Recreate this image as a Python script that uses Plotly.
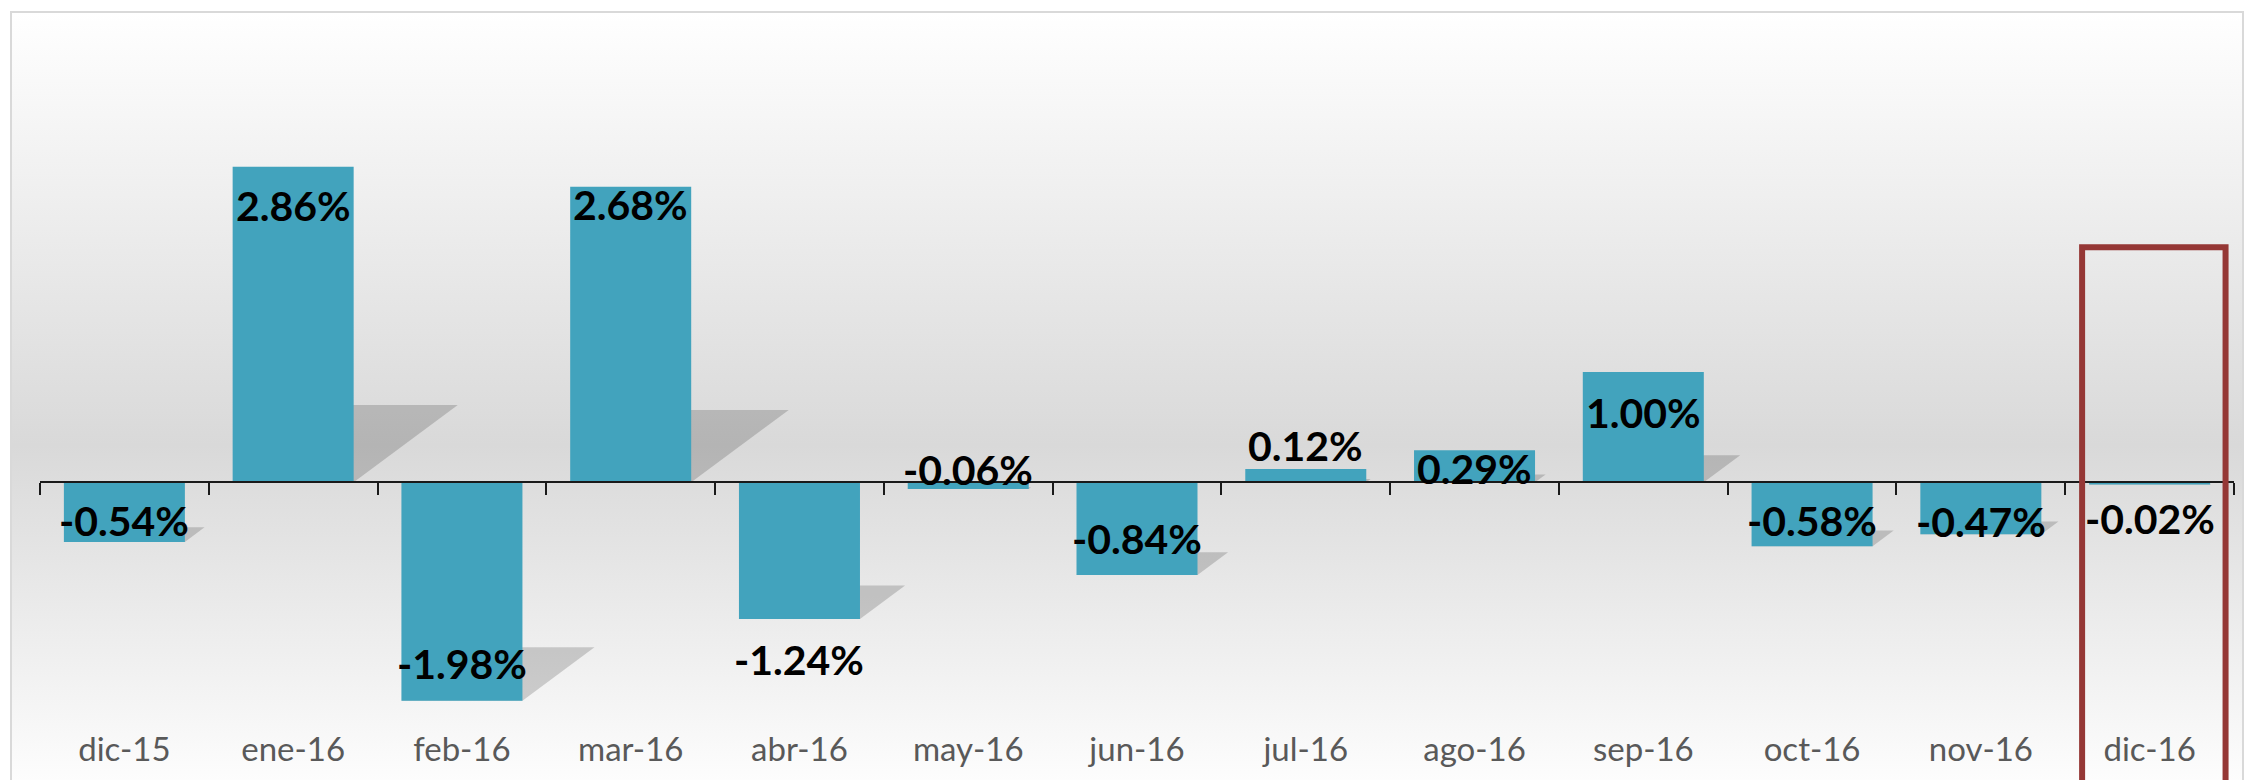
import base64
import plotly.graph_objects as go

# ---- data ----
categories = ["dic-15", "ene-16", "feb-16", "mar-16", "abr-16", "may-16", "jun-16",
              "jul-16", "ago-16", "sep-16", "oct-16", "nov-16", "dic-16"]
values = [-0.54, 2.86, -1.98, 2.68, -1.24, -0.06, -0.84, 0.12, 0.29, 1.00, -0.58, -0.47, -0.02]
labels = [f"{v:.2f}%" for v in values]

# ---- style (label vertical shift in px, relative to bar end) ----
label_shift = [21, -39, 37, -18, -40, 19, 36, 24, -18, -40, 26, 13, -34]

Y_MIN, Y_MAX = -2.2, 4.2
zero_pos = (0 - Y_MIN) / (Y_MAX - Y_MIN)
highlight_idx = len(categories) - 1
highlight_top = 2.13
BARGAP = 0.283

W, H = 2245, 780
ml, mr, mt, mb = 40, 11, 19, 55
pw, ph = W - ml - mr, H - mt - mb
px_per_cat = pw / len(categories)
px_per_unit = ph / (Y_MAX - Y_MIN)

fig = go.Figure()
fig.add_trace(go.Bar(
    x=categories, y=values,
    marker=dict(color="#42A3BD", line=dict(width=0)),
    hoverinfo="skip", showlegend=False,
))
# invisible helper trace for the category axis drawn at zero
fig.add_trace(go.Scatter(
    x=categories, y=[0] * len(categories), xaxis="x2", mode="markers",
    marker=dict(opacity=0), hoverinfo="skip", showlegend=False,
))

# perspective shadows (derived from the bar values)
half = (1 - BARGAP) / 2
for i, v in enumerate(values):
    yb = min(0.0, v)
    dy = 0.245 * abs(v)
    dx = 0.33 * abs(v) * px_per_unit / px_per_cat
    L, R = i - half, i + half
    fig.add_shape(type="path", xref="x", yref="y", layer="below",
                  path=f"M {L},{yb} L {R},{yb} L {R + dx},{yb + dy} L {L + dx},{yb + dy} Z",
                  fillcolor="rgba(0,0,0,0.17)", line=dict(width=0))

for c, v, t, s in zip(categories, values, labels, label_shift):
    fig.add_annotation(x=c, y=v, xref="x", yref="y", text=f"<b>{t}</b>",
                       showarrow=False, yanchor="middle", yshift=s,
                       font=dict(family="Lato", size=41, color="#000000"))

# background gradient
svg = ('<svg xmlns="http://www.w3.org/2000/svg" width="100" height="100" '
       'viewBox="0 0 100 100" preserveAspectRatio="none">'
       '<defs><linearGradient id="g" x1="0" y1="0" x2="0" y2="1">'
       '<stop offset="0" stop-color="#ffffff"/>'
       '<stop offset="0.55" stop-color="#d9d9d9"/>'
       '<stop offset="1" stop-color="#ffffff"/>'
       '</linearGradient></defs>'
       '<rect x="0" y="0" width="100" height="100" fill="url(#g)"/></svg>')
src = "data:image/svg+xml;base64," + base64.b64encode(svg.encode()).decode()

fx0 = (11 - ml) / pw
fx1 = (2243 - ml) / pw
fy1 = 1 - (12 - mt) / ph
fy0 = 1 - (800 - mt) / ph

fig.add_layout_image(source=src, xref="paper", yref="paper", x=fx0, y=fy1,
                     sizex=fx1 - fx0, sizey=fy1 - fy0, sizing="stretch",
                     xanchor="left", yanchor="top", layer="below")

# frame border
fig.add_shape(type="rect", xref="paper", yref="paper", x0=fx0, x1=fx1, y0=fy0, y1=fy1,
              line=dict(color="#d9d9d9", width=2), layer="above")

# highlight box around the last month
top_p = (highlight_top - Y_MIN) / (Y_MAX - Y_MIN)
x0h, x1h = highlight_idx - 0.4, highlight_idx + 0.45
fig.add_shape(type="path", xref="x", yref="paper",
              path=f"M {x0h},-0.3 L {x0h},{top_p} L {x1h},{top_p} L {x1h},-0.3",
              line=dict(color="#953735", width=6), layer="above")

fig.update_layout(
    width=W, height=H,
    margin=dict(l=ml, r=mr, t=mt, b=mb, autoexpand=False),
    paper_bgcolor="#ffffff", plot_bgcolor="rgba(0,0,0,0)",
    bargap=BARGAP,
    xaxis=dict(type="category", categoryarray=categories, categoryorder="array",
               range=[-0.5, len(categories) - 0.5], automargin=False,
               showline=False, ticks="", showgrid=False, zeroline=False,
               tickfont=dict(family="Lato", size=33, color="#595959"),
               ticklabelstandoff=2),
    xaxis2=dict(type="category", categoryarray=categories, categoryorder="array",
                range=[-0.5, len(categories) - 0.5], overlaying="x", automargin=False,
                anchor="free", position=zero_pos, side="bottom",
                showline=True, linecolor="#1a1a1a", linewidth=2,
                ticks="outside", ticklen=12, tickwidth=2, tickcolor="#1a1a1a",
                tickson="boundaries", showticklabels=False, showgrid=False, zeroline=False),
    yaxis=dict(range=[Y_MIN, Y_MAX], visible=False, showgrid=False, zeroline=False,
               automargin=False),
)

fig.write_html("out.html", config={"displayModeBar": False},
               post_script="document.body.style.margin='0';document.body.style.overflow='hidden';")
